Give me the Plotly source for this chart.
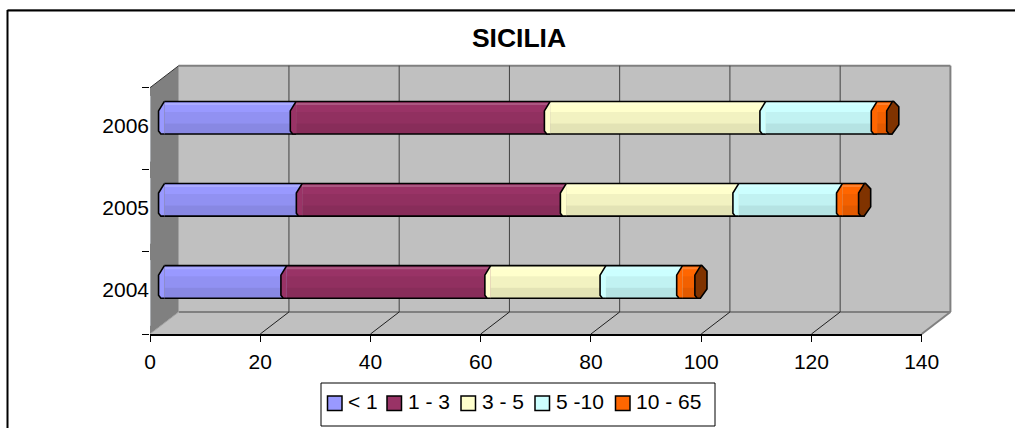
import plotly.graph_objects as go

years = ["2004", "2005", "2006"]
series_names = ["< 1", "1 - 3", "3 - 5", "5 -10", "10 - 65"]
v_lt1 = [22.2, 25.0, 23.9]
v_1_3 = [37.0, 47.9, 46.1]
v_3_5 = [20.9, 31.3, 39.1]
v_5_10 = [13.9, 18.8, 20.2]
v_10_65 = [3.3, 4.0, 2.8]
series_values = [v_lt1, v_1_3, v_3_5, v_5_10, v_10_65]
colors = ["#9999FF", "#993366", "#FFFFCC", "#CCFFFF", "#FF6600"]
x_ticks = [0, 20, 40, 60, 80, 100, 120, 140]
title = "SICILIA"

W, H = 1015, 428
FONT = "Liberation Sans, Arial, sans-serif"
FS = 21
# Plot geometry in pixels (paper coordinates are pixels / size since margins are 0)
FX0, FX1, FY0, FY1 = 150.0, 921.7, 334.0, 87.7   # front plane
DX, DY = 28.7, 22.0                               # depth of the box
AMAX = 140.0
SCALE = (FX1 - FX0) / AMAX
BAR_W = 0.397
MX, MY = DX / 2, DY / 2                           # bars stand half way into the box

px = lambda x: x / W
py = lambda y: 1 - y / H

fig = go.Figure()

# The front axes carry ticks and labels; they hold an invisible trace
fig.add_trace(go.Bar(x=[0, 0, 0], y=years, orientation="h", xaxis="x", yaxis="y",
                     showlegend=False, hoverinfo="skip", marker=dict(color="rgba(0,0,0,0)")))

cum = [0.0] * 3
boundaries = []
for name, vals, col in zip(series_names, series_values, colors):
    fig.add_trace(go.Bar(name=name, y=years, x=vals, base=list(cum), orientation="h",
                         xaxis="x2", yaxis="y2", width=BAR_W, showlegend=False,
                         marker=dict(color=col, line=dict(width=0))))
    boundaries.append(list(cum))
    cum = [c + v for c, v in zip(cum, vals)]
totals = cum

# Cylinder shading over the whole stack
for off, wid, shade in [(-0.2, 0.27, "rgba(0,0,0,0.05)"),
                        (-0.2, 0.13, "rgba(0,0,0,0.06)"),
                        (0.155, 0.025, "rgba(255,255,255,0.18)")]:
    fig.add_trace(go.Bar(y=years, x=totals, base=[0, 0, 0], orientation="h", xaxis="x2", yaxis="y2",
                         width=wid, offset=off, showlegend=False, hoverinfo="skip",
                         marker=dict(color=shade, line=dict(width=0))))

shapes = []
def poly(points, fill, line="rgba(0,0,0,0)", lw=0, layer="below"):
    d = "M" + "L".join(f"{px(x):.5f},{py(y):.5f}" for x, y in points) + "Z"
    shapes.append(dict(type="path", xref="paper", yref="paper", path=d, fillcolor=fill,
                       line=dict(color=line, width=lw), layer=layer))
def seg(x0, y0, x1, y1, color, lw, layer="below"):
    shapes.append(dict(type="line", xref="paper", yref="paper", x0=px(x0), y0=py(y0), x1=px(x1), y1=py(y1),
                       line=dict(color=color, width=lw), layer=layer))

# Frame
seg(7.5, 9.5, W, 9.5, "#A0A0A0", 1)
seg(7.5, 10.5, W, 10.5, "#000000", 2)
seg(7.5, 10, 7.5, H, "#000000", 2)

# Walls
BX0, BX1, BY0, BY1 = FX0 + DX, FX1 + DX, FY0 - DY, FY1 - DY
poly([(BX0, BY1), (BX1, BY1), (BX1, BY0), (BX0, BY0)], "#C0C0C0")
poly([(FX0, FY0), (BX0, BY0), (BX0, BY1), (FX0, FY1)], "#808080")
poly([(FX0, FY0), (BX0, BY0), (BX1, BY0), (FX1, FY0)], "#C0C0C0")
seg(BX0, BY1, BX1, BY1, "#808080", 2)
seg(BX1, BY1, BX1, BY0, "#808080", 2)
seg(BX0, BY0, BX1, BY0, "#808080", 2)
seg(BX1, BY0, FX1, FY0, "#808080", 2)
seg(FX0, FY1, BX0, BY1, "#303030", 1)
seg(FX0, FY0, BX0, BY0, "#A0A0A0", 1)

# Gridlines on the back wall, running forward over the floor
for t in x_ticks[1:-1]:
    x = FX0 + t * SCALE
    seg(x + DX, BY1, x + DX, BY0, "#404040", 1)
    seg(x + DX, BY0, x, FY0, "#202020", 1)

# Bars: rounded cross-sections at each stack boundary, derived from the values
HB = BAR_W * (FY0 - FY1) / 3 / 2
def row_y(i):
    return FY0 - MY - (i + 0.5) * (FY0 - FY1) / 3
def bar_x(v):
    return FX0 + MX + v * SCALE

LEFT = [(0, -HB), (-5.8, -HB + 9.5), (-5.8, HB - 3), (-3.5, HB), (0, HB)]
for i in range(3):
    yc = row_y(i)
    x_end = bar_x(totals[i])
    seg(bar_x(0), yc - HB, x_end + 1.3, yc - HB, "#000000", 1.6, "above")
    seg(bar_x(0), yc + HB, x_end, yc + HB, "#000000", 1.6, "above")
    for bnd, col in zip(boundaries, colors):
        c = bar_x(bnd[i])
        d = "M" + "L".join(f"{px(c + a):.5f},{py(yc + b):.5f}" for a, b in LEFT)
        shapes.append(dict(type="path", xref="paper", yref="paper", path=d, fillcolor=col,
                           line=dict(color="#000000", width=1.6), layer="above"))
    cap = [(0, -HB), (-5.8, -HB + 9.5), (-5.8, HB - 3), (-3.5, HB), (-0.3, HB),
           (6.3, HB - 9.3), (6.3, -HB + 5.3), (1.3, -HB)]
    poly([(x_end + a, yc + b) for a, b in cap], "#803300", "#000000", 1.6, "above")

# Legend
seg(321, 383, 715, 383, "#000000", 1, "above")
seg(321, 426, 715, 426, "#000000", 1, "above")
seg(321, 383, 321, 426, "#000000", 1, "above")
seg(715, 383, 715, 426, "#000000", 1, "above")
swatch_x = [327.5, 387, 461, 535, 615.5]
text_x = [347.5, 407.5, 481.5, 555.5, 636]
annotations = []
for sx, tx, name, col in zip(swatch_x, text_x, series_names, colors):
    poly([(sx, 396), (sx + 14.5, 396), (sx + 14.5, 410.5), (sx, 410.5)], col, "#000000", 1.5, "above")
    annotations.append(dict(text=name, x=px(tx), y=py(401), xref="paper", yref="paper", xanchor="left",
                            yanchor="middle", showarrow=False, borderpad=0, borderwidth=0,
                            font=dict(family=FONT, size=FS, color="#000000")))

fig.update_layout(
    width=W, height=H, autosize=False, margin=dict(l=0, r=0, t=0, b=0, pad=0, autoexpand=False),
    paper_bgcolor="#FFFFFF", plot_bgcolor="rgba(0,0,0,0)", barmode="overlay", showlegend=False,
    font=dict(family=FONT, size=FS, color="#000000"),
    title=dict(text=f"<b>{title}</b>", x=519 / W, y=py(38), xanchor="center", yanchor="middle",
               xref="paper", yref="paper", font=dict(family=FONT, size=26.5, color="#000000")),
    shapes=shapes, annotations=annotations,
    xaxis=dict(domain=[px(FX0), px(FX1)], range=[0, AMAX], tickvals=x_ticks, ticks="outside", ticklen=6,
               tickwidth=1, tickcolor="#000000", showline=True, linecolor="#000000", linewidth=1.5,
               showgrid=False, zeroline=False, anchor="y", tickfont=dict(family=FONT, size=FS), ticklabelstandoff=2),
    yaxis=dict(domain=[py(FY0), py(FY1)], type="category", categoryorder="array", categoryarray=years,
               range=[-0.5, 2.5], tickson="boundaries", ticks="outside", ticklen=7, tickwidth=1,
               tickcolor="#000000", showline=False, showgrid=False, zeroline=False, anchor="x",
               tickfont=dict(family=FONT, size=FS), ticklabelshift=-3),
    xaxis2=dict(domain=[px(FX0 + MX), px(FX1 + MX)], range=[0, AMAX], visible=False, anchor="y2"),
    yaxis2=dict(domain=[py(FY0 - MY), py(FY1 - MY)], type="category", categoryorder="array", categoryarray=years,
                range=[-0.5, 2.5], visible=False, anchor="x2"),
)

fig.write_html("out.html", config=dict(displayModeBar=False),
               post_script="document.body.style.margin='0';document.documentElement.style.overflow='hidden';")
